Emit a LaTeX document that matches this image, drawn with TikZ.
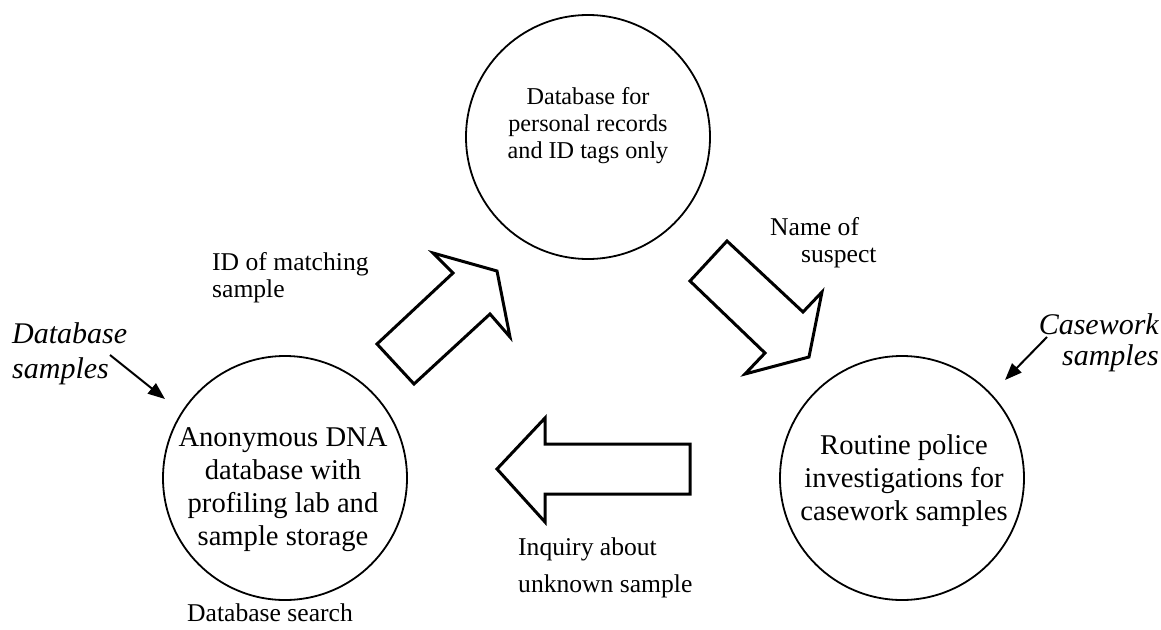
\documentclass[tikz,border=0pt]{standalone}
\usepackage{fontspec}
\setmainfont{Liberation Serif}
\usetikzlibrary{arrows.meta}
\tikzset{%
	store/.style    = {draw, circle, line width=1.8pt, minimum size=244pt, inner sep=0pt}, % Circle
	storetext/.style= {align=center, inner sep=0pt, font=\fontsize{28.6}{33}\selectfont},
	flowlabel/.style= {align=left, inner sep=0pt, font=\fontsize{25.6}{27}\selectfont},
	source/.style   = {inner sep=0pt, font=\fontsize{30}{35}\selectfont\itshape},
	bigarrow/.style = {draw, line width=3pt, line join=miter, fill=white},
	pointer/.style  = {line width=2pt, -{Triangle[length=17pt,width=13pt]}},
}
\begin{document}
\begin{tikzpicture}[x=1pt,y=-1pt]
		\useasboundingbox (0,0) rectangle (1161,629);
		% the three stores
		\node [store] (records) at (588,137) {};
		\node [store] (dna) at (285,478) {};
		\node [store] (police) at (902,478) {};
		\node [storetext, font=\fontsize{24.2}{27}\selectfont] (recordstext) at (588,126) {Database for\\personal records\\and ID tags only};
		\node [storetext] (dnatext) at (283,490) {Anonymous DNA\\database with\\profiling lab and\\sample storage};
		\node [storetext] (policetext) at (904,481) {Routine police\\investigations for\\casework samples};
		% flows between them
		\draw [bigarrow] (377,344) -- (453,273) -- (433,253) -- (497,271) -- (510,337) -- (490,314) -- (414,384) -- cycle;
		\draw [bigarrow] (727,241) -- (803,312) -- (822,292) -- (809,357) -- (745,374) -- (765,353) -- (690,281) -- cycle;
		\draw [bigarrow] (497,469) -- (545,418) -- (545,444) -- (690,444) -- (690,494) -- (545,494) -- (545,522) -- cycle;
		\node [flowlabel, anchor=west] (idlabel) at (212,278) {ID of matching\\sample};
		\node [flowlabel, anchor=west] (namelabel) at (770,243) {Name of\\\hspace*{31pt}suspect};
		\node [flowlabel, anchor=west, font=\fontsize{25.6}{36.7}\selectfont] (inqlabel) at (518,568) {Inquiry about\\unknown sample};
		\node [flowlabel] (searchlabel) at (270,613) {Database search};
		% sample sources
		\node [source, anchor=west, align=left] (dbsamples) at (12,354) {Database\\samples};
		\node [source, anchor=east, align=right, font=\fontsize{30}{31}\selectfont\itshape] (cwsamples) at (1159,343) {Casework\\samples};
		\coordinate (dbfrom) at (110,355);
		\coordinate (dbto) at (165,399);
		\coordinate (cwfrom) at (1047,337);
		\coordinate (cwto) at (1005,380);
		\draw [pointer] (dbfrom) -- (dbto);
		\draw [pointer] (cwfrom) -- (cwto);
	\end{tikzpicture}
\end{document}
